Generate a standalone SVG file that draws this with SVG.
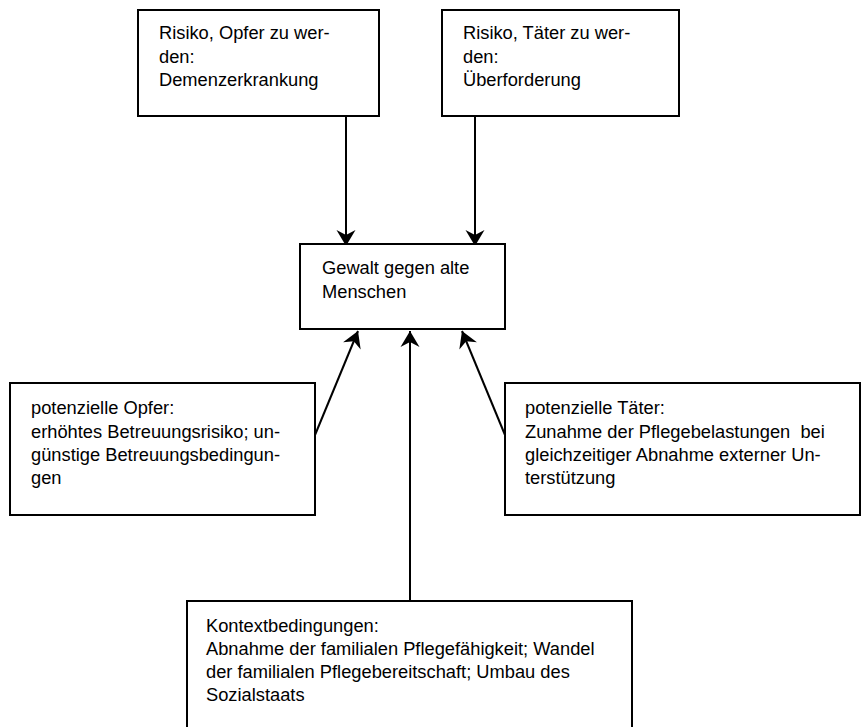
<svg xmlns="http://www.w3.org/2000/svg" width="861" height="727" viewBox="0 0 861 727">
  <defs>
    <marker id="arr" viewBox="-20 -10 22 20" markerWidth="22" markerHeight="20" refX="0" refY="0" orient="auto" markerUnits="userSpaceOnUse">
      <path d="M0,0 L-16,-9.5 L-11,0 L-16,9.5 Z" fill="#000"/>
    </marker>
  </defs>
  <style>
    .box { fill: #fff; stroke: #000; stroke-width: 2; }
    .t { font-family: "Liberation Sans", Arial, sans-serif; font-size: 18.3px; fill: #000; }
    .c { stroke: #000; stroke-width: 2; fill: none; marker-end: url(#arr); }
  </style>
  <rect x="0" y="0" width="861" height="727" fill="#fff"/>

  <g id="connectors">
    <line class="c" x1="346" y1="116" x2="346" y2="246"/>
    <line class="c" x1="475" y1="116" x2="475" y2="246"/>
    <line class="c" x1="315" y1="435" x2="358" y2="331"/>
    <line class="c" x1="410" y1="601" x2="410" y2="331"/>
    <line class="c" x1="505" y1="435" x2="462" y2="331"/>
  </g>

  <g id="risiko-opfer">
    <rect class="box" x="138" y="10" width="241" height="106"/>
    <text class="t" x="159" y="39">Risiko, Opfer zu wer-</text>
    <text class="t" x="159" y="63">den:</text>
    <text class="t" x="159" y="86">Demenzerkrankung</text>
  </g>

  <g id="risiko-taeter">
    <rect class="box" x="442" y="10" width="237" height="106"/>
    <text class="t" x="463" y="39">Risiko, Täter zu wer-</text>
    <text class="t" x="463" y="63">den:</text>
    <text class="t" x="463" y="86">Überforderung</text>
  </g>

  <g id="gewalt">
    <rect class="box" x="300" y="244" width="205" height="85"/>
    <text class="t" x="322" y="274">Gewalt gegen alte</text>
    <text class="t" x="322" y="298">Menschen</text>
  </g>

  <g id="potenzielle-opfer">
    <rect class="box" x="10" y="383" width="305" height="132"/>
    <text class="t" x="31" y="414">potenzielle Opfer:</text>
    <text class="t" x="31" y="438">erhöhtes Betreuungsrisiko; un-</text>
    <text class="t" x="31" y="461">günstige Betreuungsbedingun-</text>
    <text class="t" x="31" y="484">gen</text>
  </g>

  <g id="potenzielle-taeter">
    <rect class="box" x="505" y="383" width="355" height="132"/>
    <text class="t" x="525" y="414">potenzielle Täter:</text>
    <text class="t" x="525" y="438" xml:space="preserve">Zunahme der Pflegebelastungen  bei</text>
    <text class="t" x="525" y="461">gleichzeitiger Abnahme externer Un-</text>
    <text class="t" x="525" y="484">terstützung</text>
  </g>

  <g id="kontext">
    <rect class="box" x="187" y="601" width="445" height="140"/>
    <text class="t" x="206" y="632">Kontextbedingungen:</text>
    <text class="t" x="206" y="655">Abnahme der familialen Pflegefähigkeit; Wandel</text>
    <text class="t" x="206" y="678">der familialen Pflegebereitschaft; Umbau des</text>
    <text class="t" x="206" y="701">Sozialstaats</text>
  </g>
</svg>
